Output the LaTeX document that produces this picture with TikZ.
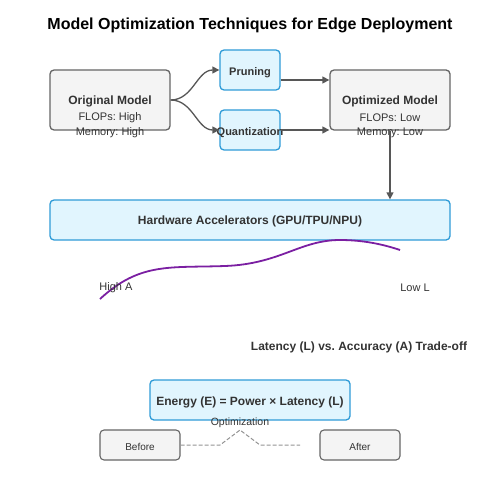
\documentclass[tikz,border=0pt]{standalone}
\usepackage{fontspec}
\setmainfont{Liberation Sans}
\frenchspacing
\usetikzlibrary{arrows.meta,positioning}
\definecolor{txt}{HTML}{333333}
\definecolor{edge}{HTML}{666666}
\definecolor{greyfill}{HTML}{F4F4F4}
\definecolor{bluefill}{HTML}{E1F5FE}
\definecolor{blueedge}{HTML}{2F9BD7}
\definecolor{curve}{HTML}{7B1FA2}
\begin{document}
\begin{tikzpicture}[x=1pt,y=-1pt]
		\tikzstyle{every node}=[font=\fontsize{11}{13}\selectfont, text=txt]
		\tikzstyle{lbl}=[yshift=-1.5pt]
		\tikzstyle{greybox}=[draw=edge, fill=greyfill, line width=1.3pt, rounded corners=4pt, inner sep=0pt]
		\tikzstyle{bluebox}=[draw=blueedge, fill=bluefill, line width=1.3pt, rounded corners=4pt, inner sep=0pt]
		\tikzstyle{flow}=[draw=edge!85!black, line width=1.3pt, -{Triangle[length=7pt,width=7pt]}]
		\useasboundingbox (0,0) rectangle (500,500);
		% title
		\node [lbl, font=\fontsize{16}{18}\selectfont\bfseries, text=black] (title) at (250,24) {Model Optimization Techniques for Edge Deployment};
		% model boxes
		\node [greybox, minimum width=120pt, minimum height=60pt] (orig) at (110,100) {};
		\node [bluebox, minimum width=60pt, minimum height=40pt] (prune) at (250,70) {};
		\node [bluebox, minimum width=60pt, minimum height=40pt] (quant) at (250,130) {};
		\node [greybox, minimum width=120pt, minimum height=60pt] (opt) at (390,100) {};
		\node [lbl, font=\fontsize{12}{14}\selectfont\bfseries] (origT) at (110,100) {Original Model};
		\node [lbl] (origF) at (110,116) {FLOPs: High};
		\node [lbl] (origM) at (110,131) {Memory: High};
		\node [lbl, font=\fontsize{11}{13}\selectfont\bfseries] (pruneT) at (250,71) {Pruning};
		\node [lbl, font=\fontsize{11}{13}\selectfont\bfseries] (quantT) at (250,131) {Quantization};
		\node [lbl, font=\fontsize{12}{14}\selectfont\bfseries] (optT) at (390,100) {Optimized Model};
		\node [lbl] (optF) at (390,116) {FLOPs: Low};
		\node [lbl] (optM) at (390,131) {Memory: Low};
		% hardware
		\node [bluebox, minimum width=400pt, minimum height=40pt] (hw) at (250,220) {};
		\node [lbl, font=\fontsize{12}{14}\selectfont\bfseries] (hwT) at (250,220) {Hardware Accelerators (GPU/TPU/NPU)};
		% arrows
		\draw [flow] (orig.east) to[out=0, in=180] (prune.west);
		\draw [flow] (orig.east) to[out=0, in=180] (quant.west);
		\draw [flow] ([yshift=-10pt]prune.east) -- ([yshift=20pt]opt.west);
		\draw [flow] (quant.east) -- ([yshift=-30pt]opt.west);
		\draw [flow] (opt.south) -- (opt.south |- hw.north);
		% trade-off curve
		\coordinate (cA) at (100,299);
		\coordinate (cL) at (400,250);
		\draw [curve, line width=1.8pt] (cA) .. controls (140,262) and (170,268) .. (225,266) .. controls (280,264) and (300,240) .. (340,240) .. controls (365,240) and (385,245) .. (cL);
		\node [lbl] (hiA) at (116,286) {High A};
		\node [lbl] (loL) at (415,286) {Low L};
		\node [lbl, font=\fontsize{12}{14}\selectfont\bfseries] (trade) at (359,346) {Latency (L) vs. Accuracy (A) Trade-off};
		% energy
		\node [bluebox, minimum width=200pt, minimum height=40pt] (energy) at (250,400) {};
		\node [lbl, font=\fontsize{12}{14}\selectfont\bfseries] (energyT) at (250,401) {Energy (E) = Power × Latency (L)};
		\node [greybox, line width=1.1pt, minimum width=80pt, minimum height=30pt] (before) at (140,445) {};
		\node [greybox, line width=1.1pt, minimum width=80pt, minimum height=30pt] (after) at (360,445) {};
		\node [lbl, font=\fontsize{10}{12}\selectfont] (beforeT) at (140,445) {Before};
		\node [lbl, font=\fontsize{10}{12}\selectfont] (afterT) at (360,445) {After};
		\node [lbl, font=\fontsize{10.5}{12}\selectfont] (optim) at (240,421) {Optimization};
		\coordinate (dEnd) at (300,445);
		\draw [edge!70, line width=1pt, dash pattern=on 4pt off 2pt] (before.east) -- (220,445) -- (240,430) -- (260,445) -- (dEnd);
	\end{tikzpicture}
\end{document}
